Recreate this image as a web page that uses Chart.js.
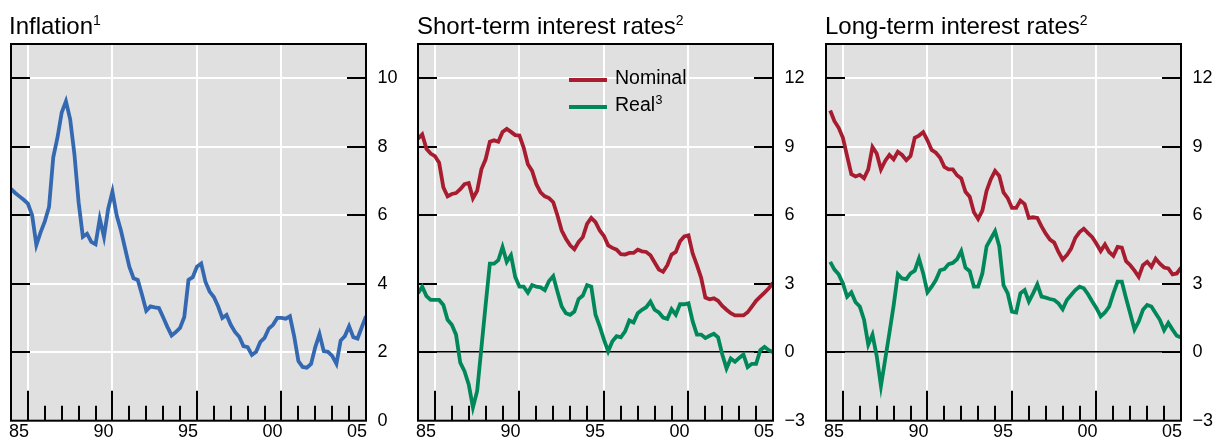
<!DOCTYPE html>
<html>
<head>
<meta charset="utf-8">
<script src="https://cdn.jsdelivr.net/npm/chart.js@4.4.1/dist/chart.umd.min.js"></script>
<style>
  html, body { margin: 0; padding: 0; background: #fff; }
  #wrap { position: relative; width: 1215px; height: 443px; overflow: hidden;
          font-family: "Liberation Sans", Arial, Helvetica, sans-serif; }
  #wrap canvas { position: absolute; top: 0; }
  .title { position: absolute; top: 14px; font-size: 24px; line-height: 24px;
           color: #000; white-space: nowrap; }
  .title sup { font-size: 14px; line-height: 0; vertical-align: baseline;
               position: relative; top: -9px; }
</style>
</head>
<body>
<div id="wrap">
  <canvas id="inflationChart" width="405" height="443" style="left:0px"></canvas>
  <canvas id="shortChart" width="405" height="443" style="left:405px"></canvas>
  <canvas id="longChart" width="405" height="443" style="left:810px"></canvas>
  <div class="title" style="left:9px">Inflation<sup>1</sup></div>
  <div class="title" style="left:417px">Short-term interest rates<sup>2</sup></div>
  <div class="title" style="left:825px">Long-term interest rates<sup>2</sup></div>
</div>
<script>
const FONT = '"Liberation Sans", Arial, Helvetica, sans-serif';
Chart.defaults.font.family = FONT;

// Quarterly time axis, 1984 Q1 .. 2005 Q1
const quarters = [];
for (let q = 0; q <= 84; q++) quarters.push(1984 + q / 4);

// Axis labelling
const labelYears = [1985, 1990, 1995, 2000, 2005];
const yearLabels = ['85', '90', '95', '00', '05'];
const markYears = [1985, 1986, 1987, 1988, 1989, 1990, 1991, 1992, 1993, 1994,
                   1995, 1996, 1997, 1998, 1999, 2000, 2001, 2002, 2003, 2004];
const inflationTicks = [0, 2, 4, 6, 8, 10];
const rateTicks = [-3, 0, 3, 6, 9, 12];

// Inflation, per cent (1984 Q1 .. 2005 Q1)
const inflation = [
  6.77, 6.65, 6.55, 6.45,  6.34, 6.00, 5.13, 5.50,  5.82, 6.24, 7.69, 8.27,
  9.00, 9.33, 8.80, 7.79,  6.38, 5.37, 5.46, 5.22,  5.15, 5.90, 5.37, 6.19,
  6.69, 6.00, 5.56, 5.03,  4.50, 4.16, 4.11, 3.68,  3.21, 3.34, 3.31, 3.29,
  3.02, 2.74, 2.49, 2.59,  2.71, 3.03, 4.11, 4.19,  4.50, 4.59, 4.06, 3.77,
  3.61, 3.34, 3.00, 3.09,  2.80, 2.59, 2.45, 2.18,  2.15, 1.92, 2.01, 2.30,
  2.42, 2.69, 2.80, 3.00,  3.00, 2.98, 3.05, 2.47,  1.74, 1.57, 1.55, 1.66,
  2.15, 2.53, 2.03, 2.01,  1.89, 1.66, 2.34, 2.47,  2.76, 2.44, 2.40, 2.73,
  3.05
];

// Short-term interest rates, per cent (1984 Q1 .. 2005 Q1)
const shortNominal = [
  9.35, 9.54, 8.91, 8.70,  8.59, 8.30, 7.22, 6.83,  6.93, 6.97, 7.14, 7.36,
  7.41, 6.74, 7.07, 8.01,  8.45, 9.22, 9.28, 9.22,  9.65, 9.78, 9.65, 9.51,
  9.49, 8.96, 8.23, 7.94,  7.36, 7.00, 6.83, 6.75,  6.57, 5.99, 5.33, 4.97,
  4.68, 4.51, 4.83, 5.04,  5.62, 5.88, 5.70, 5.33,  5.09, 4.68, 4.57, 4.49,
  4.29, 4.28, 4.35, 4.35,  4.49, 4.42, 4.39, 4.25,  3.93, 3.62, 3.52, 3.81,
  4.28, 4.39, 4.86, 5.07,  5.12, 4.32, 3.81, 3.26,  2.39, 2.32, 2.36, 2.25,
  2.03, 1.86, 1.71, 1.61,  1.61, 1.61, 1.75, 2.00,  2.25, 2.43, 2.61, 2.80,
  3.04
];
const shortReal = [
  2.58, 2.87, 2.46, 2.29,  2.29, 2.29, 2.07, 1.42,  1.20, 0.77, -0.46, -0.83,
  -1.41, -2.42, -1.70, 0.19,  2.07, 3.88, 3.88, 4.03,  4.61, 3.96, 4.25, 3.30,
  2.87, 2.87, 2.61, 2.94,  2.87, 2.84, 2.72, 3.12,  3.33, 2.65, 2.00, 1.71,
  1.64, 1.78, 2.33, 2.48,  2.94, 2.87, 1.64, 1.13,  0.55, 0.04, 0.48, 0.70,
  0.65, 0.91, 1.39, 1.30,  1.71, 1.86, 1.97, 2.22,  1.86, 1.74, 1.52, 1.46,
  1.88, 1.64, 2.10, 2.10,  2.14, 1.35, 0.77, 0.77,  0.62, 0.72, 0.81, 0.65,
  -0.10, -0.71, -0.28, -0.42,  -0.25, -0.10, -0.65, -0.51,  -0.51, 0.09, 0.23, 0.09,
  0.00
];

// Long-term interest rates, per cent (series begins 1984 Q2)
const longNominal = [
  null,
  10.59, 10.12, 9.83, 9.39,  8.59, 7.80, 7.70, 7.77,  7.62, 8.01, 8.99, 8.70,
  8.01, 8.38, 8.64, 8.45,  8.78, 8.64, 8.41, 8.59,  9.39, 9.49, 9.64, 9.28,
  8.86, 8.74, 8.52, 8.12,  8.01, 8.01, 7.75, 7.61,  7.03, 6.81, 6.13, 5.84,
  6.20, 7.07, 7.58, 7.94,  7.72, 7.00, 6.75, 6.32,  6.32, 6.64, 6.49, 5.88,
  5.91, 5.88, 5.51, 5.19,  4.93, 4.80, 4.39, 4.06,  4.25, 4.54, 5.01, 5.26,
  5.41, 5.22, 5.04, 4.75,  4.43, 4.72, 4.39, 4.22,  4.61, 4.58, 3.99, 3.81,
  3.57, 3.30, 3.81, 3.96,  3.74, 4.10, 3.88, 3.71,  3.67, 3.41, 3.45, 3.70
];
const longReal = [
  null,
  3.96, 3.62, 3.41, 3.01,  2.43, 2.62, 2.19, 2.00,  1.42, 0.33, 0.77, -0.17,
  -1.48, -0.32, 0.84, 2.04,  3.42, 3.23, 3.20, 3.45,  3.57, 4.10, 3.45, 2.62,
  2.87, 3.16, 3.59, 3.64,  3.86, 3.91, 4.07, 4.43,  3.70, 3.55, 2.87, 2.87,
  3.45, 4.64, 4.97, 5.30,  4.64, 2.94, 2.58, 1.78,  1.74, 2.58, 2.72, 2.22,
  2.58, 2.97, 2.43, 2.39,  2.33, 2.29, 2.14, 1.88,  2.29, 2.51, 2.72, 2.87,
  2.80, 2.54, 2.22, 1.93,  1.57, 1.74, 2.00, 2.58,  3.09, 3.09, 2.36, 1.68,
  0.99, 1.35, 1.86, 2.07,  2.00, 1.71, 1.42, 0.96,  1.28, 0.99, 0.72, 0.65
];

const BLUE = '#3469b2';
const RED = '#a81c30';
const GREEN = '#00875a';
const PANEL_BG = '#e0e0e0';
const PLOT_WIDTH = 355;
const CANVAS_WIDTH = 405;

function toPoints(values) {
  return values.map((v, i) => ({ x: quarters[i], y: v }));
}

// Grey panel, inner tick marks, frame and in-panel legend
const panelDecor = {
  id: 'panelDecor',
  beforeDraw(chart) {
    const { ctx, chartArea: a } = chart;
    ctx.save();
    ctx.fillStyle = PANEL_BG;
    ctx.fillRect(a.left, a.top, a.right - a.left, a.bottom - a.top);
    ctx.restore();
  },
  beforeDatasetsDraw(chart) {
    const { ctx, chartArea: a, scales } = chart;
    const x = scales.x, y = scales.y;
    ctx.save();
    ctx.strokeStyle = '#000';
    ctx.lineWidth = 2;
    ctx.lineCap = 'butt';
    ctx.beginPath();
    markYears.forEach(yr => {
      const px = Math.round(x.getPixelForValue(yr));
      const len = labelYears.includes(yr) ? 30 : 15;
      ctx.moveTo(px, a.bottom);
      ctx.lineTo(px, a.bottom - len);
    });
    y.ticks.forEach(t => {
      if (t.value === y.min) return;
      const py = Math.round(y.getPixelForValue(t.value));
      ctx.moveTo(a.left, py);
      ctx.lineTo(a.left + 19, py);
      ctx.moveTo(a.right, py);
      ctx.lineTo(a.right - 19, py);
    });
    ctx.stroke();
    ctx.restore();
  },
  afterDatasetsDraw(chart, args, opts) {
    const { ctx, chartArea: a } = chart;
    ctx.save();
    ctx.strokeStyle = '#000';
    ctx.lineWidth = 2;
    ctx.strokeRect(a.left, a.top, a.right - a.left, a.bottom - a.top);
    if (opts && opts.legend) {
      chart.data.datasets.forEach((ds, i) => {
        const ly = a.top + 36 + i * 27;
        const lx = a.left + 151;
        ctx.strokeStyle = ds.borderColor;
        ctx.lineWidth = 4;
        ctx.beginPath();
        ctx.moveTo(lx, ly);
        ctx.lineTo(lx + 38, ly);
        ctx.stroke();
        ctx.fillStyle = '#000';
        ctx.textBaseline = 'alphabetic';
        ctx.textAlign = 'left';
        ctx.font = '19.5px ' + FONT;
        const tx = lx + 46, ty = ly + 3.5;
        ctx.fillText(ds.label, tx, ty);
        if (ds.note) {
          const w = ctx.measureText(ds.label).width;
          ctx.font = '12.5px ' + FONT;
          ctx.fillText(ds.note, tx + w + 0.5, ty - 6.5);
        }
      });
    }
    ctx.restore();
  }
};

function makePanel(id, areaLeft, yMin, yMax, yTicks, datasets, withLegend) {
  const axisWidth = CANVAS_WIDTH - areaLeft - PLOT_WIDTH;
  const hasZeroLine = yMin < 0;
  return new Chart(document.getElementById(id), {
    type: 'line',
    data: { datasets },
    options: {
      responsive: false,
      animation: false,
      devicePixelRatio: 1,
      layout: { padding: { left: areaLeft, top: 44, right: 0, bottom: 0 } },
      elements: {
        point: { radius: 0, hoverRadius: 0 },
        line: { tension: 0, borderWidth: 3.8, borderJoinStyle: 'miter', borderCapStyle: 'butt' }
      },
      plugins: {
        legend: { display: false },
        tooltip: { enabled: false },
        panelDecor: { legend: withLegend }
      },
      scales: {
        x: {
          type: 'linear',
          bounds: 'data',
          min: 1984,
          max: 2005,
          afterBuildTicks: axis => { axis.ticks = labelYears.map(v => ({ value: v })); },
          afterFit: axis => { axis.height = 20; },
          border: { display: false },
          grid: {
            drawTicks: false,
            lineWidth: 2,
            color: c => (c.tick && c.tick.value < 2005) ? '#ffffff' : 'rgba(0,0,0,0)'
          },
          ticks: {
            autoSkip: false,
            maxRotation: 0,
            padding: 1,
            labelOffset: -9,
            color: '#000',
            font: { size: 18, family: FONT },
            callback: v => yearLabels[labelYears.indexOf(v)]
          }
        },
        y: {
          type: 'linear',
          position: 'right',
          bounds: 'data',
          min: yMin,
          max: yMax,
          afterBuildTicks: axis => { axis.ticks = yTicks.map(v => ({ value: v })); },
          afterFit: axis => { axis.width = axisWidth; },
          border: { display: false },
          grid: {
            drawTicks: false,
            lineWidth: c => (hasZeroLine && c.tick && c.tick.value === 0) ? 1.5 : 2,
            color: c => (hasZeroLine && c.tick && c.tick.value === 0) ? '#000000' : '#ffffff'
          },
          ticks: {
            padding: 11.5,
            color: '#000',
            font: { size: 18, family: FONT },
            callback: v => v < 0 ? '\u2212' + Math.abs(v) : String(v)
          }
        }
      }
    },
    plugins: [panelDecor]
  });
}

makePanel('inflationChart', 11, 0, 11, inflationTicks, [
  { label: 'Inflation', data: toPoints(inflation), borderColor: BLUE }
], false);

makePanel('shortChart', 13, -3, 13.5, rateTicks, [
  { label: 'Nominal', data: toPoints(shortNominal), borderColor: RED },
  { label: 'Real', note: '3', data: toPoints(shortReal), borderColor: GREEN }
], true);

makePanel('longChart', 16, -3, 13.5, rateTicks, [
  { label: 'Nominal', data: toPoints(longNominal), borderColor: RED },
  { label: 'Real', note: '3', data: toPoints(longReal), borderColor: GREEN }
], false);
</script>
</body>
</html>
